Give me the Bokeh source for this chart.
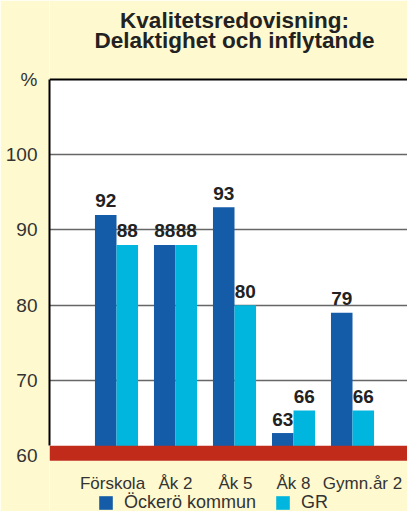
from bokeh.plotting import figure
from bokeh.models import (Range1d, FixedTicker, BoxAnnotation, Span, Legend,
                          LegendItem, ColumnDataSource)
from bokeh.transform import dodge
from bokeh.core.properties import value
from bokeh.embed import file_html
from bokeh.resources import INLINE

# ---- data ----
categories = ["Förskola", "Åk 2", "Åk 5", "Åk 8", "Gymn.år 2"]
ockero = [92, 88, 93, 63, 79]
gr = [88, 88, 80, 66, 66]
series_names = ["Öckerö kommun", "GR"]
title_lines = ["Kvalitetsredovisning:", "Delaktighet och inflytande"]
y_ticks = [60, 70, 80, 90, 100, 110]
y_tick_labels = ["60", "70", "80", "90", "100", "%"]
grid_ticks = [70, 80, 90, 100]

# ---- layout / styles ----
YELLOW = "#FEF9CE"
BLUE = "#145BA8"
CYAN = "#00B6DE"
RED = "#C02B1A"
FONT = "Liberation Sans"
BASE = 60
TOP = 110
BAND = (59.3, 61.3)
CAT_LABEL_Y = 56.35
CAT_LABEL_DX = [-4, 0, 1, 0, 10]   # pixel nudges of the category labels
TITLE_X = 2.0
TITLE_Y = [117.8, 115.15]

x = list(range(len(categories)))
src = ColumnDataSource(dict(
    x=x, cat=categories, ockero=ockero, gr=gr,
    ockero_txt=[str(v) for v in ockero], gr_txt=[str(v) for v in gr],
    label_y=[CAT_LABEL_Y] * len(categories), label_dx=CAT_LABEL_DX,
))
title_src = ColumnDataSource(dict(x=[TITLE_X] * 2, y=TITLE_Y, t=title_lines))

p = figure(width=407, height=511,
           x_range=Range1d(-1.1356, 4.932), y_range=Range1d(52.57, 120.50),
           output_backend="svg", toolbar_location=None, x_axis_location=None,
           min_border_left=49, min_border_right=0, min_border_top=0,
           min_border_bottom=0)

p.border_fill_color = YELLOW
p.background_fill_color = "white"
p.outline_line_color = None

# y axis
ax = p.yaxis[0]
ax.ticker = FixedTicker(ticks=y_ticks)
ax.major_label_overrides = {t: l for t, l in zip(y_ticks, y_tick_labels)}
ax.bounds = (BAND[1], TOP)
ax.axis_line_color = "black"
ax.axis_line_width = 2
ax.major_tick_line_color = None
ax.minor_tick_line_color = None
ax.major_label_text_font_size = "19px"
ax.major_label_text_color = "#333333"
ax.major_label_text_font = FONT
ax.major_label_standoff = 6

p.xgrid.visible = False
p.ygrid.ticker = FixedTicker(ticks=grid_ticks)
p.ygrid.grid_line_color = "#666666"
p.ygrid.grid_line_width = 1.5

off = 0.1825
bw = 0.365
r1 = p.vbar(x=dodge("x", -off, range=p.x_range), top="ockero", bottom=BASE,
            width=bw, source=src, fill_color=BLUE, line_color=None)
r2 = p.vbar(x=dodge("x", off, range=p.x_range), top="gr", bottom=BASE,
            width=bw, source=src, fill_color=CYAN, line_color=None)

for col, txt, dx in (("ockero", "ockero_txt", -off), ("gr", "gr_txt", off)):
    p.text(x=dodge("x", dx, range=p.x_range), y=col, text=txt, source=src,
           text_align="center", text_baseline="alphabetic", y_offset=-14,
           text_font=value(FONT), text_font_style="bold",
           text_font_size="19px", text_color="#222222")

# yellow surroundings outside the white chart area, red base band
p.add_layout(BoxAnnotation(bottom=TOP, fill_color=YELLOW, fill_alpha=1, line_color=None))
p.add_layout(BoxAnnotation(top=BAND[0], fill_color=YELLOW, fill_alpha=1, line_color=None))
p.add_layout(BoxAnnotation(bottom=BAND[0], top=BAND[1], fill_color=RED, fill_alpha=1, line_color=None))
p.add_layout(Span(location=TOP, dimension="width", line_color="black", line_width=2))

# category labels
p.text(x="x", y="label_y", text="cat", source=src, x_offset="label_dx",
       text_align="center", text_baseline="alphabetic", text_font=value(FONT),
       text_font_size="17px", text_color="#333333", level="overlay")

# title
p.text(x="x", y="y", text="t", source=title_src, text_align="center",
       text_baseline="alphabetic", text_font=value(FONT), text_font_size="22.5px",
       text_font_style="bold", text_color="#222222", level="overlay")

legend = Legend(items=[LegendItem(label=series_names[0], renderers=[r1]),
                       LegendItem(label=series_names[1], renderers=[r2])],
                location=(48, -2), orientation="horizontal",
                glyph_width=17, glyph_height=17, label_height=17,
                label_standoff=10, spacing=18, padding=0, margin=0,
                border_line_color=None, background_fill_alpha=0,
                label_text_font_size="18px", label_text_color="#333333",
                label_text_font=FONT)
p.add_layout(legend)

open("out.html", "w").write(file_html(p, INLINE))
